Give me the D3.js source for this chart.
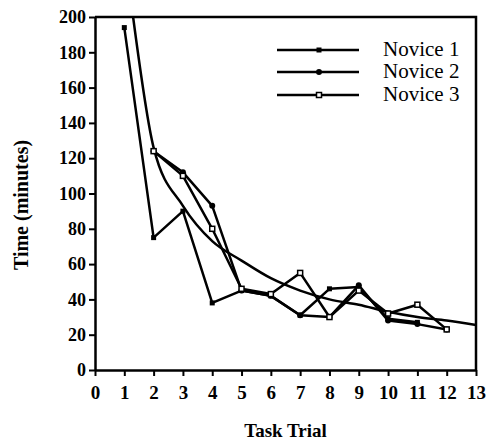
<!DOCTYPE html>
<html>
<head>
<meta charset="utf-8">
<script src="https://cdn.jsdelivr.net/npm/d3@7"></script>
<style>
body { margin: 0; background: #fff; }
svg { display: block; }
svg text { font-family: "Liberation Serif", "Times New Roman", serif; }
</style>
</head>
<body>
<script>
var W = 491, H = 440;

// data
var trials = [1, 2, 3, 4, 5, 6, 7, 8, 9, 10, 11, 12];
var novice1 = [194, 75, 90, 38, 45, 42, 31, 46, 47, 29, 27, null];
var novice2 = [null, 124, 112, 93, 45, 42, 31, 30, 48, 28, 26, 23];
var novice3 = [null, 124, 110, 80, 46, 43, 55, 30, 45, 32, 37, 23];
var seriesNames = ["Novice 1", "Novice 2", "Novice 3"];
// smooth learning curve
var curveX = [1.3, 2, 3, 4, 5, 6, 7, 8, 9, 10, 11, 12, 13];
var curveY = [200, 126, 93, 73, 62, 52, 45, 40, 37, 33, 30, 28, 25.5];
var xTicks = [0, 1, 2, 3, 4, 5, 6, 7, 8, 9, 10, 11, 12, 13];
var yTicks = [0, 20, 40, 60, 80, 100, 120, 140, 160, 180, 200];

var x = d3.scaleLinear().domain([0, 13]).range([95, 476]);
var y = d3.scaleLinear().domain([0, 200]).range([370, 17]);

var svg = d3.select("body").append("svg")
    .attr("width", W)
    .attr("height", H);

// axes
var xAxis = svg.append("g")
    .attr("transform", "translate(0," + y(0) + ")")
    .call(d3.axisBottom(x).tickValues(xTicks).tickSize(6).tickSizeOuter(0).tickPadding(10));
var yAxis = svg.append("g")
    .attr("transform", "translate(" + x(0) + ",0)")
    .call(d3.axisLeft(y).tickValues(yTicks).tickSize(6).tickSizeOuter(0).tickPadding(3));

[xAxis, yAxis].forEach(function(g) {
    g.attr("font-family", null);
    g.select(".domain").attr("stroke", "#000").attr("stroke-width", 2.5);
    g.selectAll(".tick line").attr("stroke", "#000").attr("stroke-width", 2);
    g.selectAll(".tick text").attr("fill", "#000")
        .style("font-weight", "bold");
});
xAxis.selectAll(".tick text").style("font-size", "19px");
yAxis.selectAll(".tick text").style("font-size", "18px");

// top and right frame
svg.append("path")
    .attr("d", "M" + x(0) + "," + y(200) + "H" + x(13) + "V" + y(0))
    .attr("fill", "none")
    .attr("stroke", "#000")
    .attr("stroke-width", 2.5);

// fitted curve
var curvePts = curveX.map(function(v, i) { return [v, curveY[i]]; });
svg.append("path")
    .datum(curvePts)
    .attr("fill", "none")
    .attr("stroke", "#000")
    .attr("stroke-width", 2.5)
    .attr("d", d3.line()
        .x(function(d) { return x(d[0]); })
        .y(function(d) { return y(d[1]); })
        .curve(d3.curveMonotoneX));

// series lines
var allSeries = [novice1, novice2, novice3];
var line = d3.line()
    .defined(function(d) { return d != null; })
    .x(function(d, i) { return x(trials[i]); })
    .y(function(d) { return y(d); });

allSeries.forEach(function(vals) {
    svg.append("path")
        .datum(vals)
        .attr("fill", "none")
        .attr("stroke", "#000")
        .attr("stroke-width", 2.5)
        .attr("stroke-linejoin", "round")
        .attr("d", line);
});

function drawMarker(g, k, cx, cy) {
    if (k == 0) {
        g.append("rect").attr("x", cx - 2.5).attr("y", cy - 2.5)
            .attr("width", 5).attr("height", 5).attr("fill", "#000");
    } else if (k == 1) {
        g.append("circle").attr("cx", cx).attr("cy", cy).attr("r", 3)
            .attr("fill", "#000");
    } else {
        g.append("rect").attr("x", cx - 2.5).attr("y", cy - 2.5)
            .attr("width", 5).attr("height", 5).attr("fill", "#fff")
            .attr("stroke", "#000").attr("stroke-width", 1.5);
    }
}

var markers = svg.append("g");
allSeries.forEach(function(vals, k) {
    vals.forEach(function(v, i) {
        if (v != null) drawMarker(markers, k, x(trials[i]), y(v));
    });
});

// legend
var legend = svg.append("g");
var legendY = [50, 72, 95];
seriesNames.forEach(function(name, k) {
    legend.append("line")
        .attr("x1", 277).attr("x2", 359)
        .attr("y1", legendY[k]).attr("y2", legendY[k])
        .attr("stroke", "#000").attr("stroke-width", 2.5);
    drawMarker(legend, k, 319, legendY[k]);
    legend.append("text")
        .attr("x", 383)
        .attr("y", legendY[k] + 6)
        .style("font-size", "21px")
        .attr("fill", "#000")
        .text(name);
});

// axis titles
svg.append("text")
    .attr("x", (x(0) + x(13)) / 2)
    .attr("y", 437)
    .attr("text-anchor", "middle")
    .style("font-size", "19px")
    .style("font-weight", "bold")
    .text("Task Trial");

svg.append("text")
    .attr("transform", "translate(28," + 205 + ") rotate(-90)")
    .attr("text-anchor", "middle")
    .style("font-size", "20px")
    .style("font-weight", "bold")
    .text("Time (minutes)");
</script>
</body>
</html>
